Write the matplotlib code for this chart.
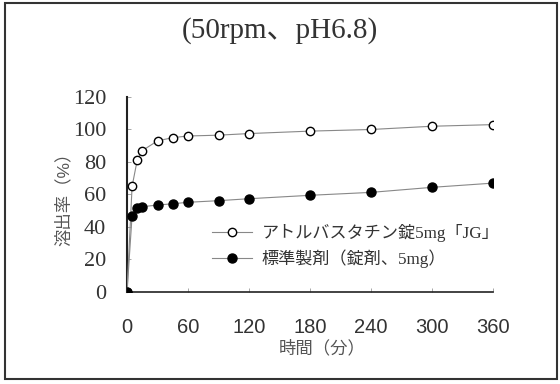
import matplotlib
matplotlib.use('Agg')
import matplotlib.pyplot as plt
from matplotlib.patches import Rectangle

# dissolution data (50rpm, pH6.8)
time_min = [0, 5, 10, 15, 30, 45, 60, 90, 120, 180, 240, 300, 360]
test_drug = [0, 65, 81, 87, 93, 95, 96, 96.5, 97.5, 99, 100, 102, 103]
standard_drug = [0, 47, 51.5, 52.5, 53.5, 54.3, 55.2, 56.2, 57.4, 59.5, 61.3, 64.4, 67]

series_labels = ['アトルバスタチン錠5mg「JG」', '標準製剤（錠剤、5mg）']
x_ticks = [0, 60, 120, 180, 240, 300, 360]
y_ticks = [0, 20, 40, 60, 80, 100, 120]

serif_jp = ['Liberation Serif', 'Noto Sans CJK JP']
sans_jp = ['Liberation Sans', 'Noto Sans CJK JP']
text_col = '#333333'

fig = plt.figure(figsize=(5.6, 3.84), dpi=100)
ax = fig.add_axes([0.2268, 0.2396, 0.6536, 0.5078])

ax.plot(time_min, test_drug, color='#888888', lw=0.8, marker='o', ms=6,
        mfc='white', mec='black', mew=1.0, label=series_labels[0], zorder=3)
ax.plot(time_min, standard_drug, color='#888888', lw=0.8, marker='o', ms=6.5,
        mfc='black', mec='black', label=series_labels[1], zorder=3)

ax.set_xlim(0, 360)
ax.set_ylim(0, 120)
ax.set_xticks(x_ticks)
ax.set_yticks(y_ticks)
for s in ['top', 'right']:
    ax.spines[s].set_visible(False)
ax.spines['left'].set_linewidth(1.5)
ax.spines['bottom'].set_linewidth(1.2)
ax.spines['left'].set_color('#222222')
ax.spines['bottom'].set_color('#222222')
for sp in ax.spines.values():
    sp.set_clip_on(False)
ax.tick_params(direction='in', length=3, width=0.6, colors='#999999')
ax.tick_params(axis='x', labelcolor=text_col, pad=19)
ax.tick_params(axis='y', labelcolor=text_col, pad=15)
for lab in ax.get_yticklabels():
    lab.set_family(serif_jp)
    lab.set_fontsize(16)
for lab in ax.get_xticklabels():
    lab.set_family(sans_jp)
    lab.set_fontsize(14.5)

ax.set_ylabel('溶出率（%）', family=sans_jp, fontsize=12.5, color='#555555')
ax.yaxis.set_label_coords(-0.15, 0.5)
ax.set_xlabel('時間（分）', family=sans_jp, fontsize=12.5, color='#555555')
ax.xaxis.set_label_coords(0.533, -0.245)

fig.text(0.5, 0.92, '(50rpm、pH6.8)', family=serif_jp, fontsize=21,
         color=text_col, ha='center', va='center')

leg = ax.legend(loc='upper left', bbox_to_anchor=(0.19, 0.43), frameon=False,
                prop={'family': serif_jp, 'size': 12.3}, handlelength=2.35,
                handletextpad=0.55, labelspacing=0.45, labelcolor=text_col)

fig.patches.append(Rectangle((5 / 560, 5 / 384), 552 / 560, 376 / 384,
                             transform=fig.transFigure, fill=False,
                             edgecolor='#333333', lw=1.5))

fig.savefig('out.png', dpi=100)
